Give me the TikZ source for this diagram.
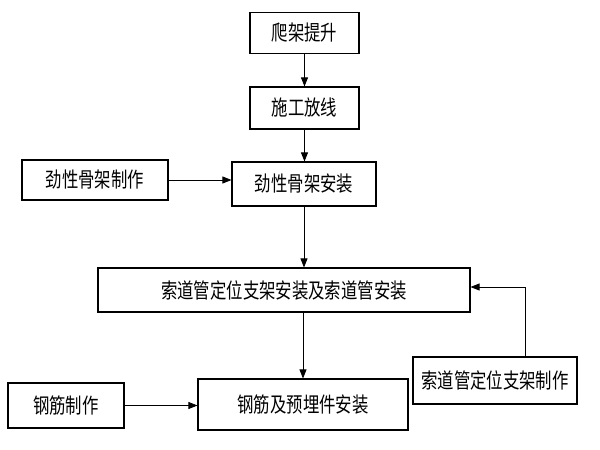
\documentclass[tikz,border=0pt]{standalone}
\usepackage{fontspec}
\newfontfamily\cjk[FakeStretch=0.78]{Noto Sans CJK SC}
\usetikzlibrary{arrows.meta}
\begin{document}
\begin{tikzpicture}[x=1pt,y=-1pt,thick,
	main node/.style = {rectangle,draw,line width=1.1pt,inner sep=0pt,font=\cjk\fontsize{21}{23}\selectfont},
	flow/.style = {draw,line width=0.8pt,-{Triangle[length=9pt,width=7pt]}}]
	
	\useasboundingbox (0,0) rectangle (600,450);
	
	\node[main node,minimum width=109pt,minimum height=41pt] (1) at (304.5,33) {爬架提升};
	\node[main node,minimum width=109pt,minimum height=42pt] (2) at (304.5,108) {施工放线};
	\node[main node,minimum width=146pt,minimum height=40pt] (3) at (95,180) {劲性骨架制作};
	\node[main node,minimum width=144pt,minimum height=44pt] (4) at (304,184) {劲性骨架安装};
	\node[main node,minimum width=372pt,minimum height=44pt] (5) at (284,290) {索道管定位支架安装及索道管安装};
	\node[main node,minimum width=116pt,minimum height=45pt] (6) at (66,405.5) {钢筋制作};
	\node[main node,minimum width=210pt,minimum height=51pt] (7) at (303,404.5) {钢筋及预埋件安装};
	\node[main node,minimum width=164pt,minimum height=47pt] (8) at (495,380.5) {索道管定位支架制作};
	
	\path[flow] (1) -- (2);
	\path[flow] (2.south) -- (2.south |- 4.north);
	\path[flow] (3) -- (3 -| 4.west);
	\path[flow] (4.south) -- (4.south |- 5.north);
	\path[flow] (7.north |- 5.south) -- (7.north);
	\path[flow] (6) -- (6 -| 7.west);
	\path[flow] ([xshift=30pt]8.north) |- ([yshift=3pt]5.east);
	
\end{tikzpicture}
\end{document}
